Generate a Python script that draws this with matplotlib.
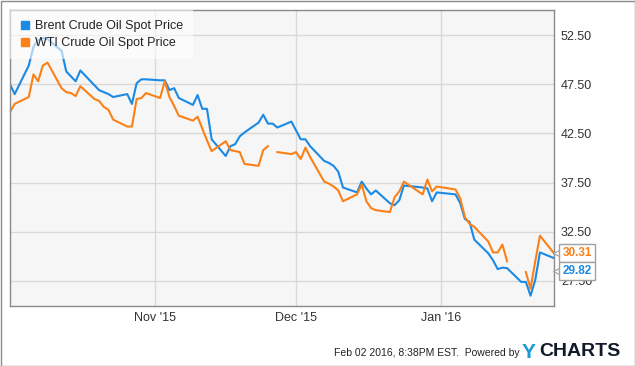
import matplotlib
matplotlib.use('Agg')
import matplotlib.pyplot as plt
import matplotlib.dates as mdates
import numpy as np
import pandas as pd
from matplotlib.patches import Rectangle

plt.rcParams['font.family'] = ['Liberation Sans', 'DejaVu Sans']

## Data
dates = ['2015-10-01', '2015-10-02', '2015-10-05', '2015-10-06', '2015-10-07', '2015-10-08', '2015-10-09',
         '2015-10-12', '2015-10-13', '2015-10-14', '2015-10-15', '2015-10-16',
         '2015-10-19', '2015-10-20', '2015-10-21', '2015-10-22', '2015-10-23',
         '2015-10-26', '2015-10-27', '2015-10-28', '2015-10-29', '2015-10-30',
         '2015-11-02', '2015-11-03', '2015-11-04', '2015-11-05', '2015-11-06',
         '2015-11-09', '2015-11-10', '2015-11-11', '2015-11-12', '2015-11-13',
         '2015-11-16', '2015-11-17', '2015-11-18', '2015-11-19', '2015-11-20',
         '2015-11-23', '2015-11-24', '2015-11-25', '2015-11-26', '2015-11-27',
         '2015-11-30', '2015-12-01', '2015-12-02', '2015-12-03', '2015-12-04',
         '2015-12-07', '2015-12-08', '2015-12-09', '2015-12-10', '2015-12-11',
         '2015-12-14', '2015-12-15', '2015-12-16', '2015-12-17', '2015-12-18',
         '2015-12-21', '2015-12-22', '2015-12-23', '2015-12-24',
         '2015-12-28', '2015-12-29', '2015-12-30', '2015-12-31',
         '2016-01-04', '2016-01-05', '2016-01-06', '2016-01-07', '2016-01-08',
         '2016-01-11', '2016-01-12', '2016-01-13', '2016-01-14', '2016-01-15',
         '2016-01-18', '2016-01-19', '2016-01-20', '2016-01-21', '2016-01-22',
         '2016-01-25']

brent = [47.5, 46.5, 49.4, 51.3, 52.0, 52.2, 52.1,
         50.9, 48.8, 48.3, 47.8, 48.9,
         47.4, 46.9, 46.7, 46.5, 46.2,
         46.5, 45.5, 47.6, 48.0, 48.0,
         47.9, 47.9, 46.9, 47.1, 46.1,
         45.4, 46.4, 45.0, 45.0, 41.9,
         40.2, 41.2, 41.4, 42.2, 42.6,
         43.6, 44.4, 43.5, 43.5, 43.1,
         43.7, 42.8, 41.9, 41.9, 41.2,
         39.7, 39.5, 39.2, 38.6, 37.0,
         36.5, 37.6, 36.9, 36.3, 36.7,
         35.4, 35.2, 35.7, 37.2,
         37.0, 36.9, 35.6, 36.5,
         36.3, 35.4, 33.8, 33.5, 31.7,
         30.3, 29.6, 28.7, 28.85, 28.8,
         27.4, 27.4, 26.0, 27.6, 30.4,
         29.82]

wti = [44.7, 45.5, 46.2, 48.5, 47.8, 49.4, 49.7,
       47.1, 46.7, 46.6, 46.3, 47.3,
       46.0, 45.8, 45.2, 44.9, 43.9,
       43.2, 43.2, 46.0, 46.1, 46.6,
       46.1, 47.8, 46.2, 45.3, 44.3,
       43.8, 44.2, 43.0, 41.8, 40.7,
       41.7, 40.8, 40.7, 40.6, 39.4,
       39.2, 40.8, 41.2, None, 40.6,
       40.4, 40.6, 39.9, 41.05, 40.1,
       37.6, 37.4, 37.1, 36.7, 35.6,
       36.3, 37.3, 35.6, 34.9, 34.7,
       34.5, 36.0, 36.6, 37.6,
       36.3, 37.8, 36.6, 37.1,
       36.8, 35.9, 34.0, 33.3, 33.0,
       31.5, 30.4, 30.4, 31.2, 29.5,
       None, 28.4, 26.7, 29.5, 32.1,
       30.31]

yticks = [27.5, 32.5, 37.5, 42.5, 47.5, 52.5]
xticks = ['2015-11-01', '2015-12-01', '2016-01-01']

blue = '#1a8ae4'
orange = '#fb8017'

df = pd.DataFrame({'brent': brent, 'wti': wti}, index=pd.to_datetime(dates), dtype=float)

fig = plt.figure(figsize=(6.35, 3.66), dpi=100)
ax = fig.add_axes([10/635, 1-306/366, 544/635, 296/366])
ax.set_facecolor('#f6f6f6')

ax.plot(df.index, df['brent'], color=blue, lw=1.5, label='Brent Crude Oil Spot Price')
ax.plot(df.index, df['wti'], color=orange, lw=1.5, label='WTI Crude Oil Spot Price')

ax.set_xlim(df.index[0], df.index[-1])
ax.set_ylim(24.95, 55.05)

ax.yaxis.tick_right()
ax.set_yticks(yticks)
ax.set_yticklabels(['%.2f' % v for v in yticks])
ax.set_xticks(pd.to_datetime(xticks))
ax.xaxis.set_major_formatter(mdates.DateFormatter("%b '%y"))
ax.tick_params(length=0, labelsize=9, colors='#333333')
ax.tick_params(axis='y', pad=5)
ax.tick_params(axis='x', pad=4)
ax.grid(color='#d8d8d8', lw=1)
ax.set_axisbelow(True)
for sp in ax.spines.values():
    sp.set_color('#8a8a8a')
    sp.set_linewidth(1)

# legend with square swatches
h1 = plt.Line2D([], [], marker='s', ls='', color=blue, markersize=6)
h2 = plt.Line2D([], [], marker='s', ls='', color=orange, markersize=6)
leg = ax.legend([h1, h2], ['Brent Crude Oil Spot Price', 'WTI Crude Oil Spot Price'],
                loc='upper left', bbox_to_anchor=(0, 1), borderaxespad=0, fontsize=9,
                frameon=True, fancybox=False, handlelength=0.8, handletextpad=0.4,
                borderpad=0.8, labelspacing=0.4, labelcolor='#222222')
leg.get_frame().set_facecolor('white')
leg.get_frame().set_alpha(0.6)
leg.get_frame().set_linewidth(0)

# last value labels
for val, col, off in [(wti[-1], orange, 0), (brent[-1], blue, -9.6)]:
    ax.annotate('%.2f' % val, xy=(1, val), xycoords=('axes fraction', 'data'),
                xytext=(6, off), textcoords='offset points', ha='left', va='center',
                fontsize=8.5, fontweight='bold', color=col, annotation_clip=False, zorder=6,
                bbox=dict(boxstyle='square,pad=0.25', fc='white', ec='#a0a0a0', lw=1))
    ax.plot([1.0045], [val + off / 72 * 100 / 9.84], transform=ax.get_yaxis_transform(),
            marker='<', ms=5, mfc='white', mec='#a0a0a0', mew=0.8, clip_on=False, zorder=5)

# footer
fig.text(520/635, 1-353/366, 'Feb 02 2016, 8:38PM EST.  Powered by', ha='right', va='center',
         fontsize=7.5, color='#222222')
fig.text(522/635, 1-352/366, 'Y', ha='left', va='center', fontsize=15, fontweight='bold', color='#1b9ad6')
fig.text(539/635, 1-352/366, 'CHARTS', ha='left', va='center', fontsize=14, fontweight='bold', color='#111a2b')

# outer frame
fig.patches.append(Rectangle((0.5/635, 0.5/366), 1-1/635, 1-1/366, transform=fig.transFigure,
                             fill=False, ec='#8c8c8c', lw=1))

fig.savefig('out.png', dpi=100, facecolor='white')
